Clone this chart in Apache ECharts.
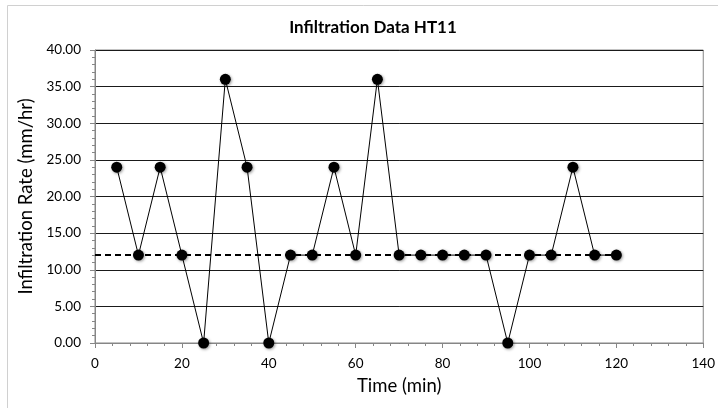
<!DOCTYPE html>
<html>
<head>
<meta charset="utf-8">
<script src="https://cdn.jsdelivr.net/npm/echarts@6/dist/echarts.min.js"></script>
<style>
  html, body { margin: 0; padding: 0; background: #fff; }
  #chart { width: 718px; height: 408px; }
</style>
</head>
<body>
<div id="chart"></div>
<script>
// time in minutes and measured infiltration rate
const times = [5, 10, 15, 20, 25, 30, 35, 40, 45, 50, 55, 60, 65, 70, 75, 80, 85, 90, 95, 100, 105, 110, 115, 120]
const rates = [24, 12, 24, 12, 0, 36, 24, 0, 12, 12, 24, 12, 36, 12, 12, 12, 12, 12, 0, 12, 12, 24, 12, 12]
// dashed reference level
const refTimes = [0, 120]
const refRates = [12, 12]

const font = 'Lato, "Open Sans", sans-serif'
const chart = echarts.init(document.getElementById('chart'))

chart.setOption({
  animation: false,
  backgroundColor: '#fff',
  title: {
    text: 'Infiltration Data HT11',
    left: 368,
    top: 14,
    textAlign: 'center',
    textStyle: { fontFamily: font, fontSize: 17, fontWeight: 'bold', color: '#000' },
  },
  graphic: [
    {
      type: 'rect',
      shape: { x: 7.5, y: 5.5, width: 720, height: 420 },
      style: { fill: 'none', stroke: '#d0d0d0', lineWidth: 1 },
      silent: true,
    },
  ],
  grid: {
    left: 95,
    right: 10,
    top: 50,
    bottom: 65,
    show: true,
    borderColor: '#868686',
    borderWidth: 1,
  },
  xAxis: {
    type: 'value',
    min: 0,
    max: 140,
    interval: 20,
    name: 'Time (min)',
    nameLocation: 'middle',
    nameGap: 34,
    nameTextStyle: { fontFamily: font, fontSize: 18.5, color: '#000' },
    axisLine: { lineStyle: { color: '#868686' } },
    axisTick: { show: true, length: 5, lineStyle: { color: '#868686' } },
    minorTick: { show: true, splitNumber: 5, length: 3, lineStyle: { color: '#868686' } },
    axisLabel: { fontFamily: font, fontSize: 13.5, color: '#000', margin: 14 },
    splitLine: { show: false },
  },
  yAxis: {
    type: 'value',
    min: 0,
    max: 40,
    interval: 5,
    name: 'Infiltration Rate (mm/hr)',
    nameLocation: 'middle',
    nameGap: 51,
    nameTextStyle: { fontFamily: font, fontSize: 18.5, color: '#000' },
    axisLine: { show: true, lineStyle: { color: '#868686' } },
    axisTick: { show: true, length: 5, lineStyle: { color: '#868686' } },
    minorTick: { show: true, splitNumber: 5, length: 3, lineStyle: { color: '#868686' } },
    axisLabel: {
      fontFamily: font,
      fontSize: 13.5,
      color: '#000',
      margin: 14,
      formatter: (v) => v.toFixed(2),
    },
    splitLine: { show: true, lineStyle: { color: '#1a1a1a', width: 1 } },
  },
  series: [
    {
      type: 'line',
      data: refTimes.map((t, i) => [t, refRates[i]]),
      symbol: 'none',
      lineStyle: { color: '#000', width: 2, type: [6, 4] },
      z: 2,
    },
    {
      type: 'line',
      data: times.map((t, i) => [t, rates[i]]),
      symbol: 'circle',
      symbolSize: 11,
      lineStyle: { color: '#000', width: 1 },
      itemStyle: {
        color: '#000',
        shadowBlur: 3,
        shadowColor: 'rgba(0,0,0,0.4)',
        shadowOffsetX: 1,
        shadowOffsetY: 1,
      },
      z: 3,
    },
  ],
})
</script>
</body>
</html>
